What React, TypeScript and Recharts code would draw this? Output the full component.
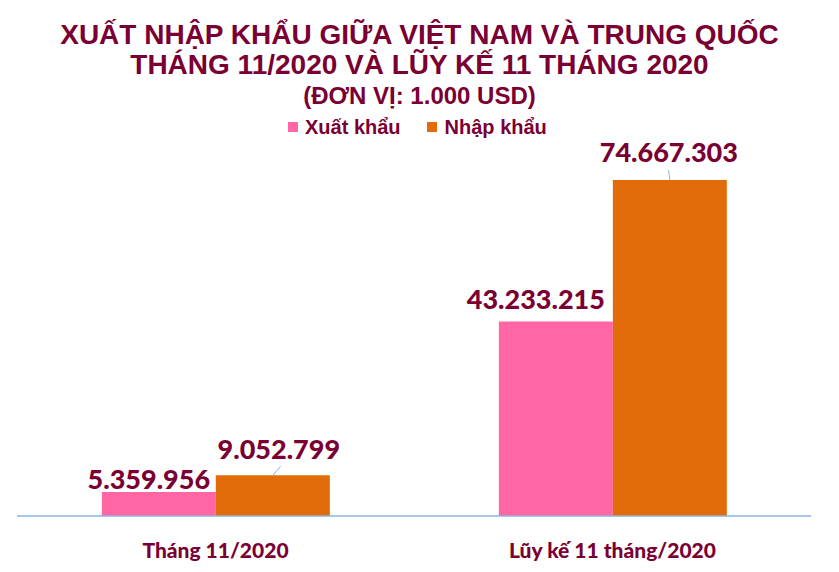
import React from "react";
import { BarChart, Bar, XAxis, YAxis, LabelList } from "recharts";

const categories = ["Tháng 11/2020", "Lũy kế 11 tháng/2020"];
const exportValues = [5359956, 43233215];
const importValues = [9052799, 74667303];
const exportLabels = ["5.359.956", "43.233.215"];
const importLabels = ["9.052.799", "74.667.303"];

const data = categories.map((c, i) => ({
  name: c,
  xuat: exportValues[i],
  nhap: importValues[i],
  xuatLabel: exportLabels[i],
  nhapLabel: importLabels[i],
}));

const MAROON = "#7a0033";
const PINK = "#ff66a3";
const ORANGE = "#e36c0a";
const AXIS = "#8db4e2";

const labelFont = "Lato, 'DejaVu Sans', sans-serif";

const exportOffsets = [
  { dx: -10, dy: -3 },
  { dx: -20, dy: -12 },
];
const importOffsets = [
  { dx: 6, dy: -16 },
  { dx: -1, dy: -18 },
];

const makeLabel = (offsets: { dx: number; dy: number }[], leader: boolean) =>
  (props: any) => {
    const { x, y, width, value, index } = props;
    const o = offsets[index] || { dx: 0, dy: -5 };
    const cx = x + width / 2;
    return (
      <g>
        {leader && (
          <line
            x1={cx}
            y1={y}
            x2={cx + o.dx * 1.3}
            y2={y + o.dy / 2 - 1}
            stroke={AXIS}
            strokeWidth={1}
          />
        )}
        <text
          x={cx + o.dx}
          y={y + o.dy}
          textAnchor="middle"
          fill={MAROON}
          fontFamily={labelFont}
          fontWeight={900}
          fontSize={27}
        >
          {value}
        </text>
      </g>
    );
  };

const Tick = (props: any) => {
  const { x, y, payload } = props;
  return (
    <text
      x={x}
      y={y + 34}
      textAnchor="middle"
      fill={MAROON}
      fontFamily={labelFont}
      fontWeight={900}
      fontSize={21}
    >
      {payload.value}
    </text>
  );
};

const titleStyle: React.CSSProperties = {
  position: "absolute",
  left: 0,
  width: 839,
  textAlign: "center",
  color: MAROON,
  fontFamily: "'Liberation Sans', Arial, sans-serif",
  fontWeight: 700,
  whiteSpace: "nowrap",
  lineHeight: 1,
};

export default function App() {
  return (
    <div
      style={{
        position: "absolute",
        left: 0,
        top: 0,
        width: 839,
        height: 572,
        background: "#fff",
      }}
    >
      <BarChart
        width={839}
        height={572}
        data={data}
        margin={{ top: 180, right: 28, bottom: 0, left: 17 }}
        barCategoryGap="21.37%"
        barGap={0}
      >
        <XAxis
          dataKey="name"
          height={56}
          axisLine={{ stroke: AXIS, strokeWidth: 1.5 }}
          tickLine={false}
          tick={<Tick />}
          interval={0}
        />
        <YAxis hide domain={[0, "dataMax"]} />
        <Bar dataKey="xuat" fill={PINK} isAnimationActive={false}>
          <LabelList dataKey="xuatLabel" content={makeLabel(exportOffsets, false)} />
        </Bar>
        <Bar dataKey="nhap" fill={ORANGE} isAnimationActive={false}>
          <LabelList dataKey="nhapLabel" content={makeLabel(importOffsets, true)} />
        </Bar>
      </BarChart>

      <div style={{ ...titleStyle, top: 21, fontSize: 28 }}>
        XUẤT NHẬP KHẨU GIỮA VIỆT NAM VÀ TRUNG QUỐC
      </div>
      <div style={{ ...titleStyle, top: 51, fontSize: 28 }}>
        THÁNG 11/2020 VÀ LŨY KẾ 11 THÁNG 2020
      </div>
      <div style={{ ...titleStyle, top: 84, fontSize: 24 }}>
        (ĐƠN VỊ: 1.000 USD)
      </div>
      <div
        style={{
          position: "absolute",
          top: 117,
          left: 288,
          display: "flex",
          alignItems: "center",
          color: MAROON,
          fontFamily: "'Liberation Sans', Arial, sans-serif",
          fontWeight: 700,
          fontSize: 20,
          lineHeight: 1,
          whiteSpace: "nowrap",
        }}
      >
        <span style={{ display: "inline-block", width: 10, height: 10, background: PINK, marginRight: 7 }} />
        <span style={{ marginRight: 26 }}>Xuất khẩu</span>
        <span style={{ display: "inline-block", width: 10, height: 10, background: ORANGE, marginRight: 8 }} />
        <span>Nhập khẩu</span>
      </div>
    </div>
  );
}
